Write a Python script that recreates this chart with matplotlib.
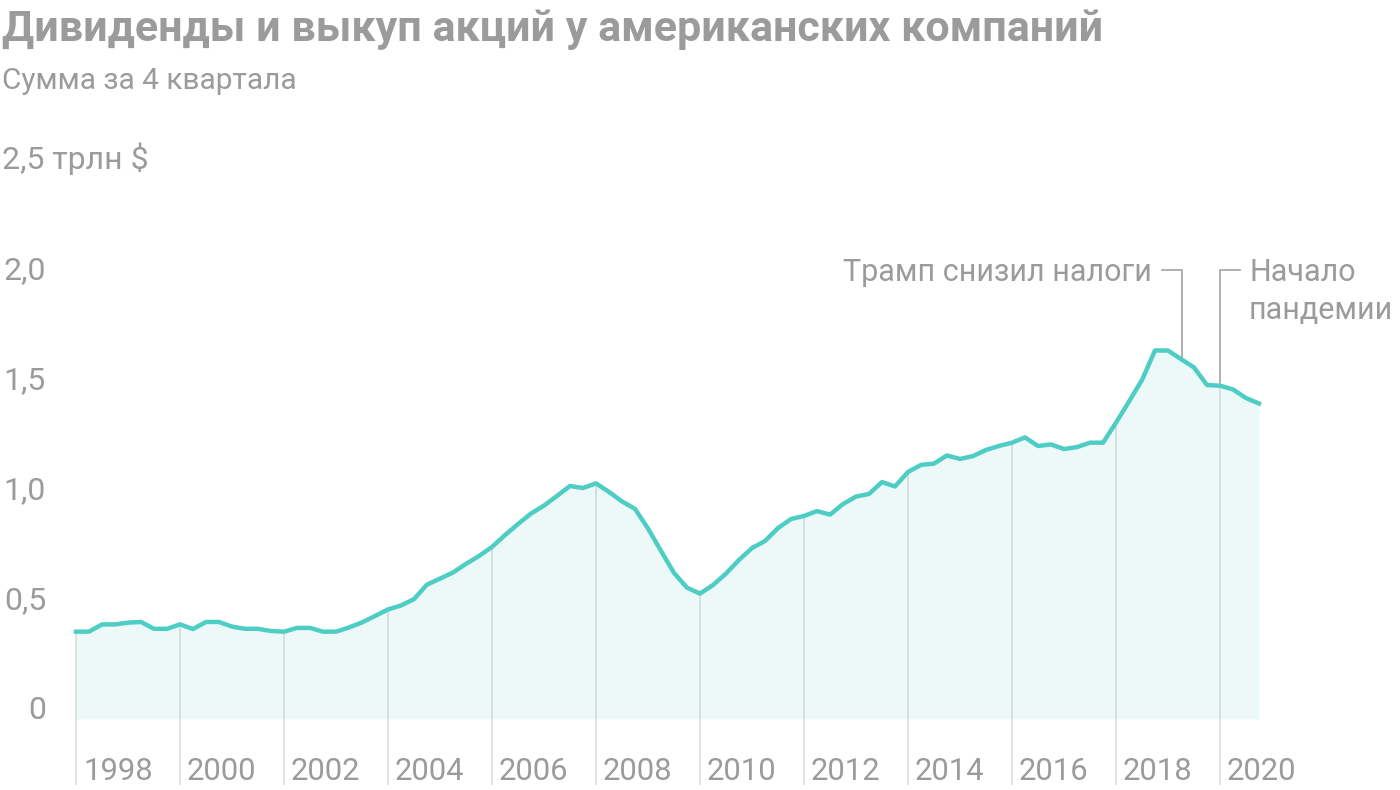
import numpy as np
import matplotlib.pyplot as plt

# квартальные значения, трлн $ (сумма за 4 квартала), 1998 Q1 - 2020 Q4
START_YEAR = 1998
values = [
    0.397, 0.397, 0.430, 0.430,   # 1998
    0.438, 0.441, 0.410, 0.410,   # 1999
    0.430, 0.409, 0.441, 0.441,   # 2000
    0.420, 0.410, 0.410, 0.400,   # 2001
    0.397, 0.414, 0.414, 0.397,   # 2002
    0.397, 0.416, 0.439, 0.468,   # 2003
    0.498, 0.516, 0.545, 0.611,   # 2004
    0.638, 0.666, 0.705, 0.741,   # 2005
    0.782, 0.836, 0.886, 0.934,   # 2006
    0.970, 1.014, 1.059, 1.050,   # 2007
    1.071, 1.032, 0.989, 0.955,   # 2008
    0.866, 0.764, 0.664, 0.597,   # 2009
    0.570, 0.609, 0.661, 0.723,   # 2010
    0.777, 0.809, 0.868, 0.909,   # 2011
    0.923, 0.945, 0.929, 0.977,   # 2012
    1.011, 1.023, 1.077, 1.057,   # 2013
    1.123, 1.155, 1.161, 1.198,   # 2014
    1.182, 1.195, 1.223, 1.241,   # 2015
    1.256, 1.280, 1.241, 1.248,   # 2016
    1.227, 1.236, 1.256, 1.256,   # 2017
    1.347, 1.443, 1.541, 1.675,   # 2018
    1.675, 1.636, 1.598, 1.518,   # 2019
    1.515, 1.498, 1.459, 1.434,   # 2020
]
year_ticks = list(range(1998, 2021, 2))
y_ticks = [0, 0.5, 1.0, 1.5, 2.0]
y_tick_labels = ["0", "0,5", "1,0", "1,5", "2,0"]
top_label = "2,5 трлн $"

title = "Дивиденды и выкуп акций у американских компаний"
subtitle = "Сумма за 4 квартала"
note_tax = "Трамп снизил налоги"
note_covid = ["Начало", "пандемии"]

TEAL = "#4ecdc4"
GRAY = "#9b9b9b"
GRID = "#dedede"
NOTE_LINE = "#aaaaaa"

W, H = 1400, 790
PX_YEAR = 52.0      # пикселей на год
PX_UNIT = 220.0     # пикселей на 1 трлн
X0, Y0 = 76, 719    # пиксель 1998 года и нуля


def main():
    plt.rcParams['font.family'] = ['Roboto', 'DejaVu Sans']
    fig = plt.figure(figsize=(W / 100, H / 100), dpi=100)
    ax = fig.add_axes([0, 0, 1, 1])
    ax.set_xlim(START_YEAR - X0 / PX_YEAR, START_YEAR + (W - X0) / PX_YEAR)
    ax.set_ylim(-(H - Y0) / PX_UNIT, Y0 / PX_UNIT)
    ax.axis('off')

    x = START_YEAR + np.arange(len(values)) * 0.25
    y = np.array(values)

    # вертикальные линии по годам - до линии графика
    for yr in year_ticks:
        i = (yr - START_YEAR) * 4
        ax.vlines(yr, -0.30, y[i], color=GRID, lw=1.2, zorder=1)
        ax.text(yr + 7 / PX_YEAR, -61 / PX_UNIT, str(yr), fontsize=22.3,
                color=GRAY, ha='left', va='baseline')

    ax.fill_between(x, 0, y, color=TEAL, alpha=0.1, lw=0, zorder=2)
    ax.plot(x, y, color=TEAL, lw=3.2, solid_joinstyle='round', zorder=4)

    # подписи оси Y
    x_lab = START_YEAR - 30 / PX_YEAR
    for v, lab in zip(y_ticks, y_tick_labels):
        ax.text(x_lab, v, lab, fontsize=23, color=GRAY, ha='right', va='baseline')
    ax.text(START_YEAR - 74 / PX_YEAR, 2.5, top_label, fontsize=23,
            color=GRAY, ha='left', va='baseline')

    # аннотации
    top = (Y0 - 270) / PX_UNIT
    xt = START_YEAR + (1181.7 - X0) / PX_YEAR
    it = 85  # 2019 Q2
    ax.plot([xt - 20 / PX_YEAR, xt, xt], [top, top, y[it]], color=NOTE_LINE, lw=1.3, zorder=3)
    ax.text(xt - 30 / PX_YEAR, (Y0 - 281) / PX_UNIT, note_tax, fontsize=22,
            color=GRAY, ha='right', va='baseline')

    xc = 2020.0
    ic = 88  # 2020 Q1
    ax.plot([xc + 20 / PX_YEAR, xc, xc], [top, top, y[ic]], color=NOTE_LINE, lw=1.3, zorder=3)
    for k, line in enumerate(note_covid):
        ax.text(xc + 29 / PX_YEAR, (Y0 - 281 - 38 * k) / PX_UNIT, line, fontsize=22,
                color=GRAY, ha='left', va='baseline')

    fig.text(2 / W, 1 - 41 / H, title, fontsize=31, fontweight='bold',
             color=GRAY, ha='left', va='baseline')
    fig.text(2 / W, 1 - 89 / H, subtitle, fontsize=21.5, color=GRAY,
             ha='left', va='baseline')

    fig.savefig("out.png", dpi=100)


if __name__ == "__main__":
    main()
